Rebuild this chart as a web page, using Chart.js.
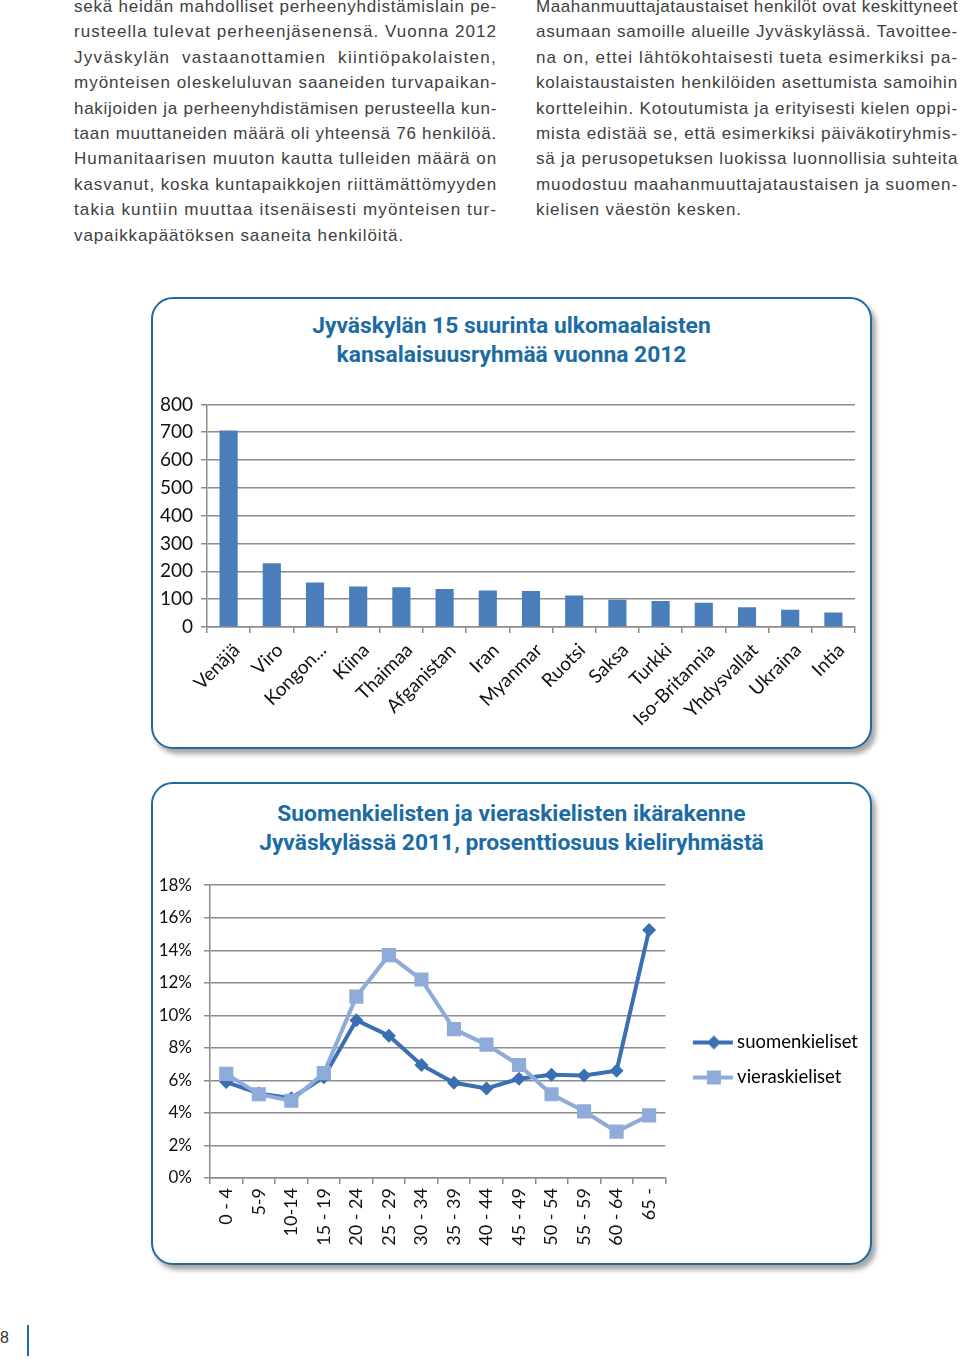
<!DOCTYPE html>
<html lang="fi">
<head>
<meta charset="utf-8">
<script src="https://cdn.jsdelivr.net/npm/chart.js@4.4.1/dist/chart.umd.min.js"></script>
<style>
  html, body { margin: 0; padding: 0; background: #fff; }
  body { width: 960px; height: 1362px; position: relative; overflow: hidden; }
  .col { position: absolute; top: -6px; font-family: "Liberation Sans", Arial, sans-serif; font-size: 17px; line-height: 25.4px; color: #404040; }
  .col div { white-space: nowrap; text-align: justify; text-align-last: justify; }
  .col div.last { text-align-last: left; }
  .box { position: absolute; left: 151px; width: 721px; border: 2.5px solid #1e6ba1; border-radius: 22px; background: #fff;
         box-shadow: 4px 5px 5px rgba(0,0,0,0.35); box-sizing: border-box; }
  .otsikko { position: absolute; left: 0; right: 0; text-align: center; font-family: Roboto, "Noto Sans", sans-serif; font-weight: bold;
             font-size: 22.8px; line-height: 29px; color: #1c6ca3; }
  canvas { position: absolute; }
  .sivu { position: absolute; left: 0; top: 1329px; font-family: "Liberation Sans", Arial, sans-serif; font-size: 16px; color: #333; }
  .viiva { position: absolute; left: 27px; top: 1325px; width: 2px; height: 31px; background: #1c6ca3; }
</style>
</head>
<body>

<div class="col" style="left:74px; width:423px;">
  <div>sekä heidän mahdolliset perheenyhdistämislain pe-</div>
  <div>rusteella tulevat perheenjäsenensä. Vuonna 2012</div>
  <div>Jyväskylän vastaanottamien kiintiöpakolaisten,</div>
  <div>myönteisen oleskeluluvan saaneiden turvapaikan-</div>
  <div>hakijoiden ja perheenyhdistämisen perusteella kun-</div>
  <div>taan muuttaneiden määrä oli yhteensä 76 henkilöä.</div>
  <div>Humanitaarisen muuton kautta tulleiden määrä on</div>
  <div>kasvanut, koska kuntapaikkojen riittämättömyyden</div>
  <div>takia kuntiin muuttaa itsenäisesti myönteisen tur-</div>
  <div class="last">vapaikkapäätöksen saaneita henkilöitä.</div>
</div>

<div class="col" style="left:536px; width:422px;">
  <div>Maahanmuuttajataustaiset henkilöt ovat keskittyneet</div>
  <div>asumaan samoille alueille Jyväskylässä. Tavoittee-</div>
  <div>na on, ettei lähtökohtaisesti tueta esimerkiksi pa-</div>
  <div>kolaistaustaisten henkilöiden asettumista samoihin</div>
  <div>kortteleihin. Kotoutumista ja erityisesti kielen oppi-</div>
  <div>mista edistää se, että esimerkiksi päiväkotiryhmis-</div>
  <div>sä ja perusopetuksen luokissa luonnollisia suhteita</div>
  <div>muodostuu maahanmuuttajataustaisen ja suomen-</div>
  <div class="last">kielisen väestön kesken.</div>
</div>

<div class="box" style="top:297px; height:452px;">
  <div class="otsikko" style="top:12px;">Jyväskylän 15 suurinta ulkomaalaisten<br>kansalaisuusryhmää vuonna 2012</div>
</div>
<canvas id="pylvaat" width="716" height="359" style="left:152px; top:385px;"></canvas>

<div class="box" style="top:782px; height:483px;">
  <div class="otsikko" style="top:15px;">Suomenkielisten ja vieraskielisten ikärakenne<br>Jyväskylässä 2011, prosenttiosuus kieliryhmästä</div>
</div>
<canvas id="viivat" width="716" height="387" style="left:152px; top:863px;"></canvas>

<div class="sivu">8</div>
<div class="viiva"></div>

<script>
// Kansalaisuusryhmät 2012
const maat = ["Venäjä", "Viro", "Kongon...", "Kiina", "Thaimaa", "Afganistan", "Iran", "Myanmar",
  "Ruotsi", "Saksa", "Turkki", "Iso-Britannia", "Yhdysvallat", "Ukraina", "Intia"];
const henkilot = [706, 229, 160, 146, 143, 137, 131, 129, 113, 98, 93, 87, 71, 62, 52];

// Ikärakenne 2011 (%)
const ikaryhmat = ["0 - 4", "5-9", "10-14", "15 - 19", "20 - 24", "25 - 29", "30 - 34", "35 - 39",
  "40 - 44", "45 - 49", "50 - 54", "55 - 59", "60 - 64", "65 -"];
const suomenkieliset = [5.9, 5.2, 4.9, 6.2, 9.7, 8.75, 6.95, 5.85, 5.5, 6.1, 6.35, 6.3, 6.6, 15.25];
const vieraskieliset = [6.4, 5.15, 4.75, 6.45, 11.15, 13.7, 12.2, 9.15, 8.2, 6.95, 5.15, 4.1, 2.85, 3.85];

const tummaSininen = '#3b6fb3';
const vaaleaSininen = '#8eabd9';
const ruudukko = '#8c8c8c';
const fontti = 'Lato';

// Tekstirivien harvennus: mitataan rivi ilman tasausta ja lisätään kirjainväliä
document.querySelectorAll('.col div').forEach(rivi => {
  const leveys = rivi.clientWidth;
  const s = document.createElement('span');
  s.textContent = rivi.textContent;
  rivi.textContent = '';
  rivi.appendChild(s);
  rivi.style.textAlignLast = 'left';
  const luonnollinen = s.getBoundingClientRect().width;
  rivi.style.textAlignLast = '';
  let vali = (leveys - luonnollinen) / s.textContent.length;
  vali = Math.min(vali, rivi.classList.contains('last') ? 0.9 : 1.3);
  rivi.style.letterSpacing = vali.toFixed(2) + 'px';
});

// Pylväskaavio
new Chart(document.getElementById('pylvaat').getContext('2d'), {
  type: 'bar',
  data: {
    labels: maat,
    datasets: [{
      data: henkilot,
      backgroundColor: '#4a7ebb',
      barPercentage: 0.42,
      categoryPercentage: 1
    }]
  },
  options: {
    responsive: false,
    animation: false,
    layout: { padding: { top: 5, right: 13, left: 0, bottom: 0 } },
    plugins: { legend: { display: false }, tooltip: { enabled: false } },
    scales: {
      x: {
        afterFit: s => { s.height = 117; },
        grid: { offset: true, drawOnChartArea: false, drawTicks: true, tickLength: 6, color: ruudukko, lineWidth: 1.5 },
        border: { color: ruudukko, width: 1.5 },
        ticks: { color: '#111', font: { family: fontti, size: 19 }, minRotation: 45, maxRotation: 45, padding: 6, labelOffset: 8, autoSkip: false }
      },
      y: {
        min: 0, max: 800,
        afterFit: s => { s.width = 55; },
        grid: { color: ruudukko, lineWidth: 1.5, tickLength: 6 },
        border: { color: ruudukko, width: 1.5 },
        ticks: { stepSize: 100, color: '#111', font: { family: fontti, size: 19 }, padding: 8 }
      }
    }
  }
});

// Selitteen kuvat: viiva + merkki (kuva on leveämpi kuin selitelaatikko)
function selitekuva(vari, merkki) {
  const c = document.createElement('canvas');
  c.width = 60; c.height = 16;
  const g = c.getContext('2d');
  g.strokeStyle = vari; g.lineWidth = 4;
  g.beginPath(); g.moveTo(18, 8); g.lineTo(58, 8); g.stroke();
  g.fillStyle = vari;
  if (merkki === 'rectRot') {
    g.beginPath(); g.moveTo(39, 1); g.lineTo(46, 8); g.lineTo(39, 15); g.lineTo(32, 8); g.closePath(); g.fill();
  } else {
    g.fillRect(32, 1, 14, 14);
  }
  return c;
}

// Viivakaavio
new Chart(document.getElementById('viivat').getContext('2d'), {
  type: 'line',
  data: {
    labels: ikaryhmat,
    datasets: [{
      label: 'suomenkieliset',
      data: suomenkieliset,
      borderColor: tummaSininen,
      backgroundColor: tummaSininen,
      borderWidth: 4,
      pointStyle: 'rectRot',
      pointRadius: 7,
      pointBorderWidth: 0,
      order: 1
    }, {
      label: 'vieraskieliset',
      data: vieraskieliset,
      borderColor: vaaleaSininen,
      backgroundColor: vaaleaSininen,
      borderWidth: 4,
      pointStyle: 'rect',
      pointRadius: 10,
      pointBorderWidth: 0,
      order: 0
    }]
  },
  options: {
    responsive: false,
    animation: false,
    layout: { padding: { top: 7, right: 0, left: 0, bottom: 0 } },
    plugins: {
      tooltip: { enabled: false },
      legend: {
        position: 'right',
        maxWidth: 240,
        labels: {
          usePointStyle: true,
          pointStyleWidth: 46,
          padding: 16.5,
          color: '#111',
          font: { family: fontti, size: 18.5 },
          sort: (a, b) => a.datasetIndex - b.datasetIndex,
          generateLabels: chart => chart.data.datasets.map((ds, i) => ({
            text: ds.label,
            pointStyle: selitekuva(ds.borderColor, ds.pointStyle),
            fillStyle: ds.borderColor,
            strokeStyle: ds.borderColor,
            lineWidth: 0,
            hidden: false,
            datasetIndex: i
          }))
        }
      }
    },
    scales: {
      x: {
        offset: true,
        afterFit: s => { s.height = 72; },
        grid: { offset: true, drawOnChartArea: false, drawTicks: true, tickLength: 6, color: ruudukko, lineWidth: 1.5 },
        border: { color: ruudukko, width: 1.5 },
        ticks: { color: '#111', font: { family: fontti, size: 18 }, minRotation: 90, maxRotation: 90, padding: 4, autoSkip: false }
      },
      y: {
        min: 0, max: 18,
        afterFit: s => { s.width = 58; },
        grid: { color: ruudukko, lineWidth: 1.5, tickLength: 6 },
        border: { color: ruudukko, width: 1.5 },
        ticks: { stepSize: 2, color: '#111', font: { family: fontti, size: 17 }, padding: 12, callback: v => v + '%' }
      }
    }
  }
});
</script>
</body>
</html>
